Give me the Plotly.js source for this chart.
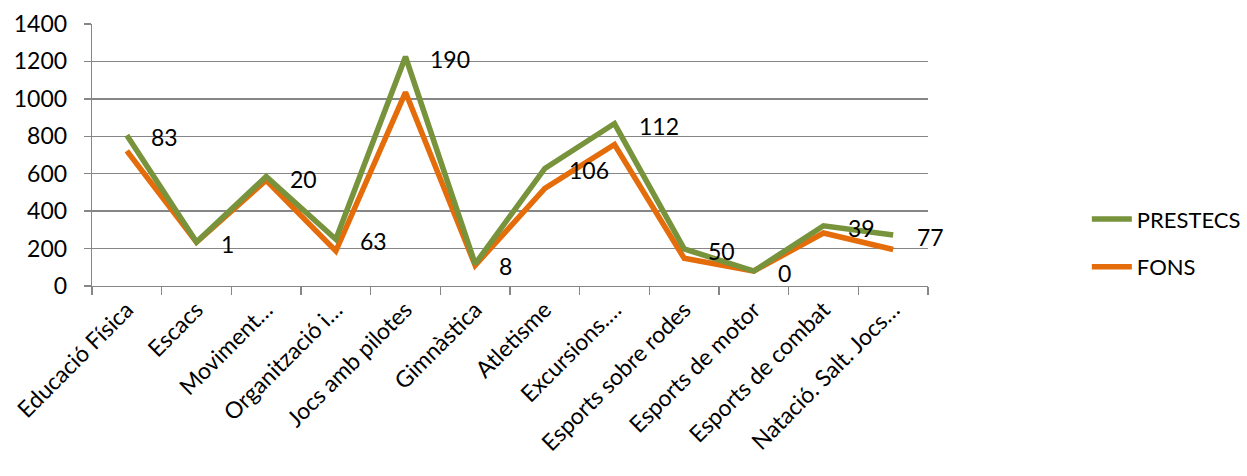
<!DOCTYPE html>
<html><head><meta charset="utf-8">
<script src="https://cdn.plot.ly/plotly-3.0.1.min.js"></script>
<style>html,body{margin:0;padding:0;background:#fff}#chart{width:1247px;height:476px}</style>
</head><body><div id="chart"></div>
<script>
const categories = ["Educació Física","Escacs","Moviment…","Organització i…","Jocs amb pilotes","Gimnàstica","Atletisme","Excursions.…","Esports sobre rodes","Esports de motor","Esports de combat","Natació. Salt. Jocs…"];
const prestecs = [805, 235, 585, 250, 1225, 118, 628, 868, 198, 80, 322, 272];
const fons     = [722, 234, 565, 187, 1035, 110, 522, 756, 148, 80, 283, 195];
const labels   = ["83","1","20","63","190","8","106","112","50","0","39","77"];

const FONT = "Lato, 'Open Sans', sans-serif";
const traces = [
  {x: categories, y: fons, type: "scatter", mode: "lines", name: "FONS",
   line: {color: "#E46C0A", width: 5.5}, legendgroup: "b", legendrank: 2},
  {x: categories, y: prestecs, type: "scatter", mode: "lines", name: "PRESTECS",
   line: {color: "#77933C", width: 5.5}, legendgroup: "a", legendrank: 1}
];
const annotations = categories.map((c, i) => ({
  x: c, y: prestecs[i], xref: "x", yref: "y", text: labels[i], showarrow: false,
  xanchor: "left", yanchor: "middle", xshift: 22, yshift: -2,
  font: {family: FONT, size: 23, color: "#000"}
}));
const layout = {
  width: 1247, height: 476,
  margin: {l: 92, r: 319, t: 24, b: 190, autoexpand: false},
  paper_bgcolor: "#fff", plot_bgcolor: "#fff",
  font: {family: FONT, size: 23, color: "#000"},
  showlegend: true,
  legend: {x: 1.19, y: 0.335, xanchor: "left", yanchor: "top", traceorder: "grouped",
           tracegroupgap: 16, font: {family: FONT, size: 22, color: "#000"}, itemwidth: 40},
  xaxis: {type: "category", tickangle: -45, tickson: "boundaries", ticks: "outside", ticklen: 8,
          tickcolor: "#868686", tickwidth: 1.3, showline: true, linecolor: "#868686", linewidth: 1.3,
          showgrid: false, zeroline: false, range: [-0.5, 11.5], automargin: false,
          tickfont: {family: FONT, size: 23, color: "#000"}},
  yaxis: {range: [0, 1400], dtick: 200, ticks: "outside", ticklen: 7, tickcolor: "#868686", tickwidth: 1.3,
          showline: true, linecolor: "#868686", linewidth: 1.3, showgrid: true, gridcolor: "#868686",
          gridwidth: 1.3, zeroline: false, ticklabelstandoff: 12, automargin: false,
          tickfont: {family: FONT, size: 23, color: "#000"}},
  annotations: annotations
};
Plotly.newPlot("chart", traces, layout, {staticPlot: true});
</script></body></html>
